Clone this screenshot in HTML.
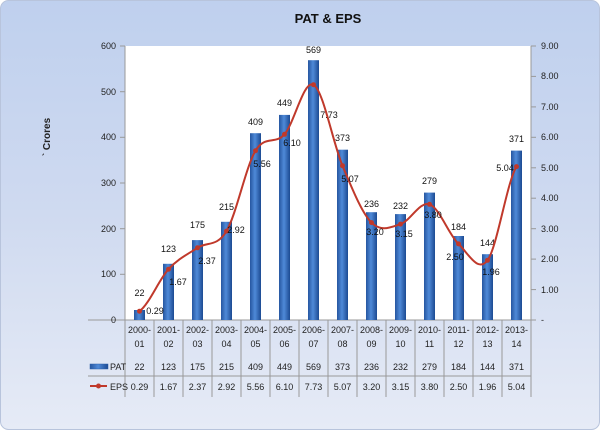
<!DOCTYPE html><html><head><style>body{margin:0}svg{display:block;font-family:"Liberation Sans",sans-serif}</style></head><body>
<svg width="600" height="430" viewBox="0 0 600 430" xmlns="http://www.w3.org/2000/svg">
<defs>
<linearGradient id="bg" x1="0" y1="0" x2="0" y2="1"><stop offset="0" stop-color="#bfd0ee"/><stop offset="0.5" stop-color="#cfdaf0"/><stop offset="1" stop-color="#e6ebf6"/></linearGradient>
<linearGradient id="bar" x1="0" y1="0" x2="1" y2="0"><stop offset="0" stop-color="#2656a0"/><stop offset="0.45" stop-color="#4f8ad8"/><stop offset="1" stop-color="#1c4a92"/></linearGradient>
</defs>
<rect x="0.5" y="0.5" width="599" height="429" rx="8" fill="url(#bg)" stroke="#b8c4dc"/>
<text x="328" y="23" font-size="13" font-weight="bold" text-anchor="middle" fill="#111">PAT &amp; EPS</text>
<rect x="125" y="46" width="406" height="274" fill="#fff"/>
<g stroke="#999" stroke-width="1">
<line x1="125" y1="46" x2="125" y2="320"/><line x1="531" y1="46" x2="531" y2="320"/>
<line x1="120" y1="46" x2="125" y2="46"/><line x1="120" y1="91.7" x2="125" y2="91.7"/><line x1="120" y1="137.3" x2="125" y2="137.3"/><line x1="120" y1="183" x2="125" y2="183"/><line x1="120" y1="228.7" x2="125" y2="228.7"/><line x1="120" y1="274.3" x2="125" y2="274.3"/><line x1="120" y1="320" x2="125" y2="320"/>
<line x1="531" y1="46" x2="536" y2="46"/><line x1="531" y1="76.4" x2="536" y2="76.4"/><line x1="531" y1="106.9" x2="536" y2="106.9"/><line x1="531" y1="137.3" x2="536" y2="137.3"/><line x1="531" y1="167.8" x2="536" y2="167.8"/><line x1="531" y1="198.2" x2="536" y2="198.2"/><line x1="531" y1="228.7" x2="536" y2="228.7"/><line x1="531" y1="259.1" x2="536" y2="259.1"/><line x1="531" y1="289.6" x2="536" y2="289.6"/><line x1="531" y1="320" x2="536" y2="320"/>
<line x1="88" y1="320" x2="531" y2="320"/><line x1="88" y1="376" x2="531" y2="376"/>
<line x1="125" y1="320" x2="125" y2="397"/><line x1="154" y1="320" x2="154" y2="397"/><line x1="183" y1="320" x2="183" y2="397"/><line x1="212" y1="320" x2="212" y2="397"/><line x1="241" y1="320" x2="241" y2="397"/><line x1="270" y1="320" x2="270" y2="397"/><line x1="299" y1="320" x2="299" y2="397"/><line x1="328" y1="320" x2="328" y2="397"/><line x1="357" y1="320" x2="357" y2="397"/><line x1="386" y1="320" x2="386" y2="397"/><line x1="415" y1="320" x2="415" y2="397"/><line x1="444" y1="320" x2="444" y2="397"/><line x1="473" y1="320" x2="473" y2="397"/><line x1="502" y1="320" x2="502" y2="397"/><line x1="531" y1="320" x2="531" y2="397"/>
</g>
<g font-size="9" fill="#222" text-anchor="end">
<text x="116" y="49">600</text><text x="116" y="95">500</text><text x="116" y="140">400</text><text x="116" y="186">300</text><text x="116" y="232">200</text><text x="116" y="277">100</text><text x="116" y="323">0</text>
</g>
<g font-size="9" fill="#222" text-anchor="start">
<text x="541" y="49">9.00</text><text x="541" y="79">8.00</text><text x="541" y="110">7.00</text><text x="541" y="140">6.00</text><text x="541" y="171">5.00</text><text x="541" y="201">4.00</text><text x="541" y="232">3.00</text><text x="541" y="262">2.00</text><text x="541" y="293">1.00</text><text x="541" y="323">-</text>
</g>
<text transform="translate(50,137) rotate(-90)" font-size="10" font-weight="bold" fill="#222" text-anchor="middle">` Crores</text>
<g fill="url(#bar)">
<rect x="134" y="310" width="11" height="10"/><rect x="163" y="263.8" width="11" height="56.2"/><rect x="192" y="240.1" width="11" height="79.9"/><rect x="221" y="221.8" width="11" height="98.2"/><rect x="250" y="133.2" width="11" height="186.8"/><rect x="279" y="114.9" width="11" height="205.1"/><rect x="308" y="60.2" width="11" height="259.8"/><rect x="337" y="149.7" width="11" height="170.3"/><rect x="366" y="212.2" width="11" height="107.8"/><rect x="395" y="214.1" width="11" height="105.9"/><rect x="424" y="192.6" width="11" height="127.4"/><rect x="453" y="236" width="11" height="84"/><rect x="482" y="254.2" width="11" height="65.8"/><rect x="511" y="150.6" width="11" height="169.4"/>
</g>
<g font-size="9" fill="#111" text-anchor="middle">
<text x="139.5" y="296">22</text><text x="168.5" y="252">123</text><text x="197.5" y="228">175</text><text x="226.5" y="210">215</text><text x="255.5" y="125">409</text><text x="284.5" y="106">449</text><text x="313.5" y="53">569</text><text x="342.5" y="141">373</text><text x="371.5" y="207">236</text><text x="400.5" y="209">232</text><text x="429.5" y="184">279</text><text x="458.5" y="230">184</text><text x="487.5" y="246">144</text><text x="516.5" y="142">371</text>
</g>
<path fill="none" stroke="#c0392b" stroke-width="2" d="M139.5,311.2 C149.2,304.2 158.8,279.8 168.5,269.2 C178.2,258.6 187.8,254.2 197.5,247.8 C207.2,241.5 216.8,247.3 226.5,231.1 C236.2,214.9 245.8,166.8 255.5,150.7 C265.2,134.6 274.8,145.3 284.5,134.3 C294.2,123.3 303.8,79.5 313.5,84.7 C323.2,89.9 332.8,142.7 342.5,165.7 C352.2,188.7 361.8,212.9 371.5,222.6 C381.2,232.3 390.8,227.2 400.5,224.1 C410.2,221.1 419.8,201.0 429.5,204.3 C439.2,207.6 448.8,234.6 458.5,243.9 C468.2,253.2 477.8,273.2 487.5,260.3 C497.2,247.4 506.8,182.2 516.5,166.6"/>
<g fill="#c0392b">
<circle cx="139.5" cy="311.2" r="2.5"/><circle cx="168.5" cy="269.2" r="2.5"/><circle cx="197.5" cy="247.8" r="2.5"/><circle cx="226.5" cy="231.1" r="2.5"/><circle cx="255.5" cy="150.7" r="2.5"/><circle cx="284.5" cy="134.3" r="2.5"/><circle cx="313.5" cy="84.7" r="2.5"/><circle cx="342.5" cy="165.7" r="2.5"/><circle cx="371.5" cy="222.6" r="2.5"/><circle cx="400.5" cy="224.1" r="2.5"/><circle cx="429.5" cy="204.3" r="2.5"/><circle cx="458.5" cy="243.9" r="2.5"/><circle cx="487.5" cy="260.3" r="2.5"/><circle cx="516.5" cy="166.6" r="2.5"/>
</g>
<g font-size="9" fill="#111" text-anchor="middle">
<text x="155" y="314">0.29</text><text x="178" y="285">1.67</text><text x="207" y="264">2.37</text><text x="236" y="233">2.92</text><text x="262" y="167">5.56</text><text x="292" y="146">6.10</text><text x="329" y="118">7.73</text><text x="350" y="182">5.07</text><text x="375" y="235">3.20</text><text x="404" y="237">3.15</text><text x="433" y="218">3.80</text><text x="455" y="260">2.50</text><text x="491" y="275">1.96</text><text x="505" y="171">5.04</text>
</g>
<g font-size="9" fill="#222" text-anchor="middle">
<text x="139.5" y="333">2000-</text><text x="139.5" y="347">01</text>
<text x="168.5" y="333">2001-</text><text x="168.5" y="347">02</text>
<text x="197.5" y="333">2002-</text><text x="197.5" y="347">03</text>
<text x="226.5" y="333">2003-</text><text x="226.5" y="347">04</text>
<text x="255.5" y="333">2004-</text><text x="255.5" y="347">05</text>
<text x="284.5" y="333">2005-</text><text x="284.5" y="347">06</text>
<text x="313.5" y="333">2006-</text><text x="313.5" y="347">07</text>
<text x="342.5" y="333">2007-</text><text x="342.5" y="347">08</text>
<text x="371.5" y="333">2008-</text><text x="371.5" y="347">09</text>
<text x="400.5" y="333">2009-</text><text x="400.5" y="347">10</text>
<text x="429.5" y="333">2010-</text><text x="429.5" y="347">11</text>
<text x="458.5" y="333">2011-</text><text x="458.5" y="347">12</text>
<text x="487.5" y="333">2012-</text><text x="487.5" y="347">13</text>
<text x="516.5" y="333">2013-</text><text x="516.5" y="347">14</text>
<text x="139.5" y="370">22</text><text x="168.5" y="370">123</text><text x="197.5" y="370">175</text><text x="226.5" y="370">215</text><text x="255.5" y="370">409</text><text x="284.5" y="370">449</text><text x="313.5" y="370">569</text><text x="342.5" y="370">373</text><text x="371.5" y="370">236</text><text x="400.5" y="370">232</text><text x="429.5" y="370">279</text><text x="458.5" y="370">184</text><text x="487.5" y="370">144</text><text x="516.5" y="370">371</text>
<text x="139.5" y="390">0.29</text><text x="168.5" y="390">1.67</text><text x="197.5" y="390">2.37</text><text x="226.5" y="390">2.92</text><text x="255.5" y="390">5.56</text><text x="284.5" y="390">6.10</text><text x="313.5" y="390">7.73</text><text x="342.5" y="390">5.07</text><text x="371.5" y="390">3.20</text><text x="400.5" y="390">3.15</text><text x="429.5" y="390">3.80</text><text x="458.5" y="390">2.50</text><text x="487.5" y="390">1.96</text><text x="516.5" y="390">5.04</text>
</g>
<rect x="90" y="364" width="18" height="5" fill="url(#bar)" stroke="#2c5fa8" stroke-width="0.5"/>
<text x="110" y="370" font-size="9" fill="#222">PAT</text>
<line x1="90" y1="386" x2="107" y2="386" stroke="#c0392b" stroke-width="2"/><circle cx="98.5" cy="386" r="2.5" fill="#c0392b"/>
<text x="110" y="390" font-size="9" fill="#222">EPS</text>
</svg>
</body></html>
